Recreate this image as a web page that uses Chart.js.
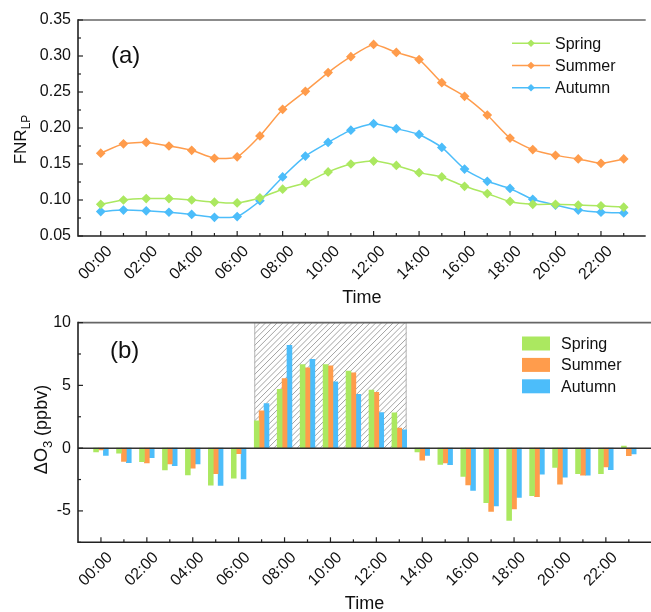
<!DOCTYPE html>
<html><head><meta charset="utf-8">
<script src="https://cdn.jsdelivr.net/npm/chart.js@4.4.0/dist/chart.umd.min.js"></script>
<style>
html,body{margin:0;padding:0;background:#fff;overflow:hidden;}
#wrap{position:relative;width:651px;height:612px;}
.c{position:absolute;left:0;width:651px;height:306px;}
</style></head><body>
<div id="wrap">
<div class="c" style="top:0"><canvas id="top" width="651" height="306"></canvas></div>
<div class="c" style="top:306px"><canvas id="bot" width="651" height="306"></canvas></div>
</div>
<script>
const hours = [0,1,2,3,4,5,6,7,8,9,10,11,12,13,14,15,16,17,18,19,20,21,22,23];
const timeLabels = ['00:00','01:00','02:00','03:00','04:00','05:00','06:00','07:00','08:00','09:00','10:00','11:00','12:00','13:00','14:00','15:00','16:00','17:00','18:00','19:00','20:00','21:00','22:00','23:00'];
const labelHours = [0,2,4,6,8,10,12,14,16,18,20,22];
const seasons = ['Spring','Summer','Autumn'];
const seasonColors = ['#abe860','#ff9c4c','#4cbdfa'];

const fnrSpring = [0.094,0.100,0.102,0.102,0.100,0.097,0.096,0.103,0.115,0.124,0.139,0.150,0.154,0.148,0.138,0.132,0.119,0.109,0.098,0.094,0.094,0.093,0.092,0.090];
const fnrSummer = [0.165,0.178,0.180,0.175,0.169,0.158,0.160,0.189,0.226,0.251,0.277,0.299,0.316,0.305,0.295,0.263,0.244,0.218,0.186,0.170,0.162,0.157,0.151,0.157];
const fnrAutumn = [0.084,0.086,0.085,0.083,0.080,0.076,0.077,0.099,0.132,0.161,0.180,0.197,0.206,0.199,0.191,0.173,0.143,0.126,0.116,0.101,0.093,0.086,0.083,0.082];

const dO3Spring = [-0.3,-0.4,-1.08,-1.74,-2.13,-2.95,-2.4,2.18,4.68,6.66,6.66,6.13,4.63,2.82,-0.3,-1.29,-2.26,-4.34,-5.76,-3.79,-1.53,-2.03,-2.03,0.16];
const dO3Summer = [-0.15,-1.05,-1.18,-1.26,-1.6,-2.03,-0.45,2.97,5.55,6.39,6.55,6.0,4.45,1.6,-0.95,-1.18,-2.92,-5.05,-4.84,-3.87,-2.87,-2.16,-1.5,-0.6];
const dO3Autumn = [-0.58,-1.15,-0.76,-1.4,-1.26,-2.97,-2.45,3.55,8.18,7.08,5.29,4.29,2.84,1.45,-0.58,-1.32,-3.37,-4.6,-3.92,-2.08,-2.32,-2.16,-1.71,-0.47];

const fnrTicks = [0.05,0.10,0.15,0.20,0.25,0.30,0.35];
const dO3Ticks = [-5,0,5,10];
const shadedHours = [7,13];

const FONT = "'Liberation Sans', Arial, sans-serif";
const fnrData = [fnrSpring, fnrSummer, fnrAutumn];
const dO3Data = [dO3Spring, dO3Summer, dO3Autumn];
const BAR_W = 4.9;

function drawRichText(ctx, parts, cx, cy, rotate) {
  ctx.save();
  ctx.translate(cx, cy);
  if (rotate) ctx.rotate(-Math.PI/2);
  let total = 0;
  parts.forEach(p => { ctx.font = p.size + 'px ' + FONT; p.w = ctx.measureText(p.t).width; total += p.w; });
  let x = -total/2;
  ctx.fillStyle = '#111';
  ctx.textBaseline = 'alphabetic';
  ctx.textAlign = 'left';
  parts.forEach(p => { ctx.font = p.size + 'px ' + FONT; ctx.fillText(p.t, x, p.dy); x += p.w; });
  ctx.restore();
}

const decor = {
  id: 'decor',
  beforeDatasetsDraw(chart, args, o) {
    if (!o.hatch) return;
    const {ctx} = chart, x = chart.scales.x, y = chart.scales.y;
    const x0 = x.getPixelForValue(o.hatch[0]) - 1.5*BAR_W;
    const x1 = x.getPixelForValue(o.hatch[1]) + 1.5*BAR_W;
    const y0 = y.getPixelForValue(y.max), y1 = y.getPixelForValue(0);
    ctx.save();
    ctx.beginPath(); ctx.rect(x0, y0, x1-x0, y1-y0); ctx.clip();
    ctx.strokeStyle = '#8c8c8c'; ctx.lineWidth = 0.8;
    const h = y1 - y0;
    for (let k = x0 - h; k < x1 + 6; k += 5.8) {
      ctx.beginPath(); ctx.moveTo(k, y1); ctx.lineTo(k + h, y0); ctx.stroke();
    }
    ctx.restore();
    ctx.save();
    ctx.strokeStyle = '#b5b5b5'; ctx.lineWidth = 1;
    ctx.strokeRect(x0+0.5, y0, x1-x0-1, y1-y0);
    ctx.restore();
  },
  afterDraw(chart, args, o) {
    const {ctx, chartArea: a} = chart, x = chart.scales.x, y = chart.scales.y;
    ctx.save();
    if (o.zero) {
      ctx.strokeStyle = '#333'; ctx.lineWidth = 1.5;
      const yz = y.getPixelForValue(0);
      ctx.beginPath(); ctx.moveTo(a.left, yz); ctx.lineTo(a.right, yz); ctx.stroke();
    }
    ctx.strokeStyle = '#666'; ctx.lineWidth = 1.6;
    ctx.beginPath(); ctx.moveTo(a.left, a.top); ctx.lineTo(a.right, a.top); ctx.stroke();
    ctx.strokeStyle = '#222';
    ctx.beginPath(); ctx.moveTo(a.left, a.top-0.8); ctx.lineTo(a.left, a.bottom); ctx.lineTo(a.right, a.bottom); ctx.stroke();
    ctx.lineWidth = 1.2;
    hours.forEach(hh => {
      const px = x.getPixelForValue(hh);
      const len = labelHours.includes(hh) ? 5 : 3;
      ctx.beginPath(); ctx.moveTo(px, a.bottom); ctx.lineTo(px, a.bottom - len); ctx.stroke();
    });
    const yt = o.yTicks;
    for (let i = 0; i < yt.length; i++) {
      const py = y.getPixelForValue(yt[i]);
      ctx.beginPath(); ctx.moveTo(a.left, py); ctx.lineTo(a.left + 5, py); ctx.stroke();
      if (i < yt.length - 1) {
        const pm = y.getPixelForValue((yt[i] + yt[i+1]) / 2);
        ctx.beginPath(); ctx.moveTo(a.left, pm); ctx.lineTo(a.left + 3, pm); ctx.stroke();
      }
    }
    if (o.minorBelow) {
      const pm = y.getPixelForValue(o.minorBelow);
      ctx.beginPath(); ctx.moveTo(a.left, pm); ctx.lineTo(a.left + 3, pm); ctx.stroke();
    }
    ctx.restore();
    drawRichText(ctx, o.yTitle, o.yTitlePos[0], o.yTitlePos[1], true);
    ctx.save();
    ctx.font = '24px ' + FONT; ctx.fillStyle = '#111'; ctx.textBaseline = 'middle'; ctx.textAlign = 'left';
    ctx.fillText(o.panel, o.panelPos[0], o.panelPos[1]);
    ctx.font = '16px ' + FONT; ctx.textBaseline = 'middle';
    chart.data.datasets.forEach((ds, i) => {
      const ly = o.legendY + i * o.legendGap;
      if (o.legendType === 'line') {
        ctx.strokeStyle = ds.borderColor; ctx.lineWidth = 1.5;
        ctx.beginPath(); ctx.moveTo(o.legendX, ly); ctx.lineTo(o.legendX + 38, ly); ctx.stroke();
        ctx.fillStyle = ds.borderColor;
        const cx = o.legendX + 19, r = 3.8;
        ctx.beginPath(); ctx.moveTo(cx, ly - r); ctx.lineTo(cx + r, ly); ctx.lineTo(cx, ly + r); ctx.lineTo(cx - r, ly); ctx.closePath(); ctx.fill();
        ctx.fillStyle = '#111';
        ctx.fillText(ds.label, o.legendX + 43, ly + 1);
      } else {
        ctx.fillStyle = ds.backgroundColor;
        ctx.fillRect(o.legendX, ly - 7, 28, 14);
        ctx.fillStyle = '#111';
        ctx.fillText(ds.label, o.legendX + 39, ly + 1);
      }
    });
    ctx.restore();
  }
};

const xScale = (h) => ({
  type: 'linear', min: -1, max: 23.967, offset: false,
  grid: {display: false, drawTicks: false}, border: {display: false},
  afterBuildTicks: s => { s.ticks = labelHours.map(v => ({value: v})); },
  ticks: {autoSkip: false, maxRotation: 45, minRotation: 45, padding: 6, labelOffset: 9, color: '#111',
          font: {family: FONT, size: 16}, callback: v => timeLabels[v]},
  title: {display: true, text: 'Time', color: '#111', font: {family: FONT, size: 18}, padding: {top: 0, bottom: -3}},
  afterFit: s => { s.height = h; }
});

new Chart(document.getElementById('top'), {
  type: 'line',
  data: {datasets: seasons.map((s, i) => ({
    label: s, data: hours.map((hh, j) => ({x: hh, y: fnrData[i][j]})),
    borderColor: seasonColors[i], backgroundColor: seasonColors[i],
    borderWidth: 1.5, pointStyle: 'rectRot', pointRadius: 3.8, pointHoverRadius: 3.8, tension: 0.2
  }))},
  options: {
    responsive: false, animation: false, devicePixelRatio: 1,
    layout: {padding: {top: 20, left: 0, right: 0, bottom: 0}},
    plugins: {legend: {display: false}, tooltip: {enabled: false},
      decor: {yTicks: fnrTicks, yTitle: [{t: 'FNR', size: 17, dy: 0}, {t: 'LP', size: 12, dy: 4}], yTitlePos: [25.5, 139.5],
              panel: '(a)', panelPos: [111, 56], legendType: 'line', legendX: 512, legendY: 43.3, legendGap: 22.2}},
    scales: {
      x: xScale(70),
      y: {min: 0.05, max: 0.35, grid: {display: false, drawTicks: false}, border: {display: false},
          afterBuildTicks: s => { s.ticks = fnrTicks.map(v => ({value: v})); },
          ticks: {padding: 7, color: '#111', font: {family: FONT, size: 16}, callback: v => v.toFixed(2)},
          afterFit: s => { s.width = 78; }}
    }
  },
  plugins: [decor]
});

new Chart(document.getElementById('bot'), {
  type: 'bar',
  data: {datasets: seasons.map((s, i) => ({
    label: s, data: hours.map((hh, j) => ({x: hh, y: dO3Data[i][j]})),
    backgroundColor: seasonColors[i], borderWidth: 0, barThickness: BAR_W
  }))},
  options: {
    responsive: false, animation: false, devicePixelRatio: 1,
    layout: {padding: {top: 14, left: 0, right: 0, bottom: 0}},
    plugins: {legend: {display: false}, tooltip: {enabled: false},
      decor: {hatch: shadedHours, zero: true, yTicks: dO3Ticks, minorBelow: -7.5,
              yTitle: [{t: 'ΔO', size: 18, dy: 0}, {t: '3', size: 13, dy: 5}, {t: ' (ppbv)', size: 18, dy: 0}], yTitlePos: [47, 123.5],
              panel: '(b)', panelPos: [110, 45.7], legendType: 'box', legendX: 522, legendY: 37.5, legendGap: 21.4}},
    scales: {
      x: xScale(69.7),
      y: {min: -7.5, max: 10, grid: {display: false, drawTicks: false}, border: {display: false},
          afterBuildTicks: s => { s.ticks = dO3Ticks.map(v => ({value: v})); },
          ticks: {padding: 7, color: '#111', font: {family: FONT, size: 16}, callback: v => String(v)},
          afterFit: s => { s.width = 78; }}
    }
  },
  plugins: [decor]
});
</script>
</body></html>
